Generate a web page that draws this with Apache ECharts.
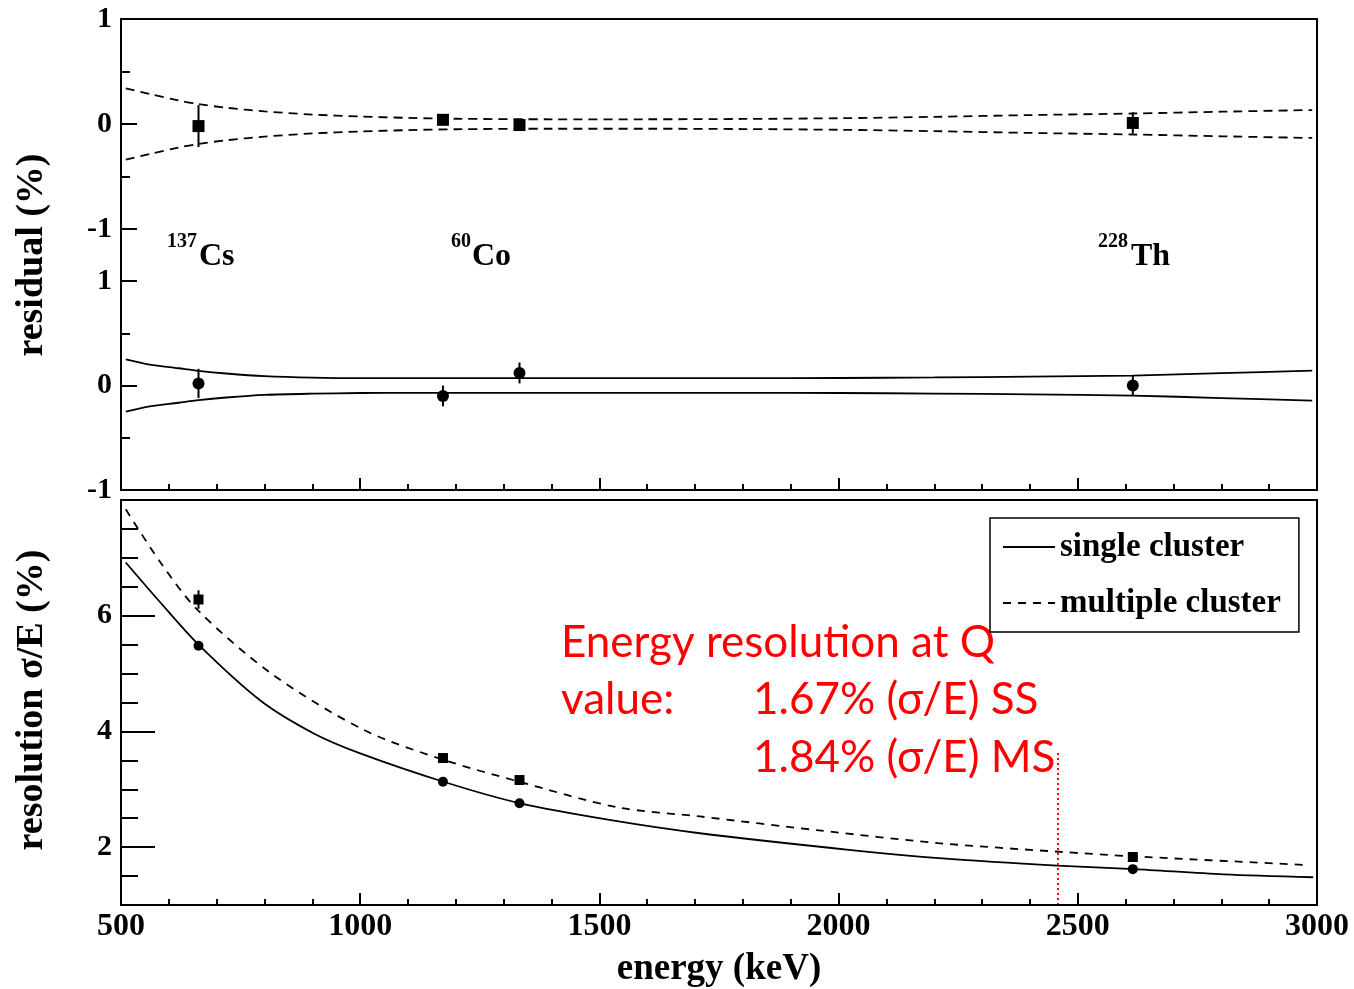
<!DOCTYPE html>
<html>
<head>
<meta charset="utf-8">
<title>energy resolution</title>
<script src="https://cdn.jsdelivr.net/npm/echarts@6/dist/echarts.min.js"></script>
<style>
  html, body { margin: 0; padding: 0; background: #fff; }
  #chart { width: 1354px; height: 989px; }
</style>
</head>
<body>
<div id="chart"></div>
<script>
// calibration peaks (keV)
var energies = [662, 1173, 1333, 2615];

// residuals (%) - multiple cluster (squares) and single cluster (circles)
var msResidual = [-0.02, 0.04, -0.01, 0.01];
var msResidualErr = [0.2, 0.03, 0.03, 0.1];
var ssResidual = [0.02, -0.1, 0.12, 0.0];
var ssResidualErr = [0.14, 0.1, 0.1, 0.1];

// residual error bands
var bandE = [510, 560, 620, 662, 720, 800, 900, 1000, 1100, 1200, 1400, 1600, 1800, 2000, 2200, 2400, 2615, 2800, 2990];
var msBandUp = [0.34, 0.285, 0.225, 0.19, 0.155, 0.12, 0.09, 0.072, 0.058, 0.05, 0.045, 0.045, 0.048, 0.055, 0.068, 0.085, 0.1, 0.117, 0.133];
var msBandLow = [-0.34, -0.285, -0.225, -0.19, -0.155, -0.12, -0.09, -0.072, -0.058, -0.05, -0.045, -0.045, -0.048, -0.055, -0.068, -0.085, -0.1, -0.117, -0.133];
var ssBandUp = [0.25, 0.2, 0.165, 0.14, 0.115, 0.09, 0.075, 0.07, 0.07, 0.07, 0.07, 0.07, 0.07, 0.072, 0.077, 0.085, 0.095, 0.118, 0.143];
var ssBandLow = [-0.25, -0.2, -0.165, -0.14, -0.115, -0.09, -0.078, -0.072, -0.07, -0.07, -0.07, -0.07, -0.07, -0.072, -0.077, -0.085, -0.097, -0.12, -0.145];

// resolution sigma/E (%)
var ssResolution = [5.48, 3.13, 2.76, 1.62];
var ssResolutionErr = [0.03, 0.02, 0.02, 0.02];
var msResolution = [6.28, 3.54, 3.16, 1.83];
var msResolutionErr = [0.16, 0.04, 0.04, 0.03];

// fitted resolution curves
var ssFitE = [510, 580, 662, 792, 904, 1000, 1174, 1333, 1521, 1710, 2026, 2224, 2457, 2618, 2805, 2992];
var ssFit = [6.92, 6.25, 5.5, 4.53, 3.96, 3.62, 3.13, 2.76, 2.47, 2.24, 1.95, 1.8, 1.68, 1.62, 1.53, 1.48];
var msFitE = [510, 580, 660, 816, 1009, 1174, 1333, 1537, 1710, 1959, 2208, 2461, 2618, 2983];
var msFit = [7.84, 6.95, 6.1, 4.99, 4.02, 3.51, 3.13, 2.69, 2.53, 2.29, 2.07, 1.92, 1.84, 1.69];

var qValue = 2458;
var qLineTop = 3.67;

var resTicks = [2, 4, 6];

var serif = "'Liberation Serif', 'Times New Roman', serif";
var sans = "Lato, 'Noto Sans', sans-serif";
var red = '#ff0000';

function pairs(xs, ys) {
  return xs.map(function (x, i) { return [x, ys[i]]; });
}
function errData(vals, errs) {
  return energies.map(function (e, i) { return [e, vals[i] - errs[i], vals[i] + errs[i]]; });
}
function errSeries(idx, vals, errs) {
  return {
    type: 'custom', xAxisIndex: idx, yAxisIndex: idx, silent: true, z: 3,
    data: errData(vals, errs),
    renderItem: function (params, api) {
      var p1 = api.coord([api.value(0), api.value(1)]);
      var p2 = api.coord([api.value(0), api.value(2)]);
      return { type: 'line', shape: { x1: p1[0], y1: p1[1], x2: p2[0], y2: p2[1] },
               style: { stroke: '#000', lineWidth: 2 } };
    }
  };
}
function curve(idx, xs, ys, dashed, name) {
  return {
    name: name, type: 'line', xAxisIndex: idx, yAxisIndex: idx, data: pairs(xs, ys), smooth: 0.3,
    symbol: 'none', silent: true, itemStyle: { color: '#000' },
    lineStyle: { color: '#000', width: 1.8, type: dashed ? [9, 6] : 'solid' }
  };
}
function points(idx, vals, shape, size) {
  return { type: 'scatter', xAxisIndex: idx, yAxisIndex: idx, data: pairs(energies, vals),
           symbol: shape, symbolSize: size, itemStyle: { color: '#000', opacity: 1 }, silent: true, z: 4 };
}

var left = 121, width = 1196;

var xBase = {
  type: 'value', min: 500, max: 3000, interval: 500,
  axisLine: { show: false, onZero: false }, splitLine: { show: false },
  axisTick: { inside: true, length: 12, lineStyle: { color: '#000', width: 2 } },
  minorTick: { show: true, splitNumber: 5, length: 6, lineStyle: { color: '#000', width: 2 } },
  axisLabel: { show: false }
};
var residualY = {
  type: 'value', min: -1, max: 1, interval: 1, position: 'left',
  axisLine: { show: false, onZero: false }, splitLine: { show: false },
  axisTick: { inside: true, length: 16, lineStyle: { color: '#000', width: 2 } },
  minorTick: { show: true, splitNumber: 2, length: 9, lineStyle: { color: '#000', width: 2 } },
  axisLabel: { showMinLabel: true, showMaxLabel: true, margin: 9, color: '#000',
               fontSize: 30, fontWeight: 'bold', fontFamily: serif }
};

var msFitCurve = curve(2, msFitE, msFit, true, 'multiple cluster');
msFitCurve.lineStyle.type = [8, 7];
var ssFitCurve = curve(2, ssFitE, ssFit, false, 'single cluster');
// Q-value marker
ssFitCurve.markLine = {
  silent: true, symbol: 'none', label: { show: false },
  lineStyle: { color: red, width: 2, type: [2, 3] },
  data: [[{ coord: [qValue, 1] }, { coord: [qValue, qLineTop] }]]
};

var chart = echarts.init(document.getElementById('chart'));
chart.setOption({
  backgroundColor: '#fff',
  animation: false,
  grid: [
    { left: left, width: width, top: 19, height: 210 },
    { left: left, width: width, top: 281, height: 209 },
    { left: left, width: width, top: 500, height: 405 }
  ],
  xAxis: [
    Object.assign({}, xBase, { gridIndex: 0, show: false }),
    Object.assign({}, xBase, { gridIndex: 1 }),
    Object.assign({}, xBase, {
      gridIndex: 2,
      axisLabel: { show: true, showMinLabel: true, showMaxLabel: true, margin: 6, color: '#000',
                   fontSize: 32, fontWeight: 'bold', fontFamily: serif,
                   formatter: function (v) { return String(v); } },
      name: 'energy (keV)', nameLocation: 'middle', nameGap: 46,
      nameTextStyle: { color: '#000', fontSize: 37, fontWeight: 'bold', fontFamily: serif }
    })
  ],
  yAxis: [
    Object.assign({}, residualY, { gridIndex: 0 }),
    Object.assign({}, residualY, { gridIndex: 1 }),
    {
      // minor ticks every 0.5
      type: 'value', gridIndex: 2, min: 1, max: 8, interval: 0.5, position: 'left',
      axisLine: { show: false, onZero: false }, splitLine: { show: false },
      axisTick: { inside: true, length: 17, lineStyle: { color: '#000', width: 2 } },
      axisLabel: { show: false }
    },
    {
      // long ticks + labels at 2, 4, 6
      type: 'value', gridIndex: 2, min: 1, max: 8, position: 'left', offset: 0,
      axisLine: { show: false, onZero: false }, splitLine: { show: false },
      axisTick: { inside: true, length: 34, customValues: resTicks, lineStyle: { color: '#000', width: 2 } },
      axisLabel: { customValues: resTicks, margin: 9, color: '#000',
                   fontSize: 30, fontWeight: 'bold', fontFamily: serif }
    }
  ],
  legend: {
    data: ['single cluster', 'multiple cluster'],
    orient: 'vertical', left: 990, top: 518,
    padding: [12, 18, 12, 12], itemGap: 22, itemWidth: 52, itemHeight: 14, itemTextGap: 11,
    borderColor: '#000', borderWidth: 1.5, backgroundColor: '#fff',
    itemStyle: { opacity: 0 },
    textStyle: { color: '#000', fontSize: 33, fontWeight: 'bold', fontFamily: serif, lineHeight: 34 }
  },
  series: [
    // upper residual panel: multiple cluster
    curve(0, bandE, msBandUp, true),
    curve(0, bandE, msBandLow, true),
    errSeries(0, msResidual, msResidualErr),
    points(0, msResidual, 'rect', 12),
    // lower residual panel: single cluster
    curve(1, bandE, ssBandUp, false),
    curve(1, bandE, ssBandLow, false),
    errSeries(1, ssResidual, ssResidualErr),
    points(1, ssResidual, 'circle', 12),
    // resolution panel
    ssFitCurve,
    msFitCurve,
    errSeries(2, msResolution, msResolutionErr),
    errSeries(2, ssResolution, ssResolutionErr),
    points(2, ssResolution, 'circle', 10),
    points(2, msResolution, 'rect', 10)
  ],
  graphic: [
    // frames
    { type: 'rect', shape: { x: left, y: 19, width: width, height: 471 }, z: 100, silent: true,
      style: { fill: 'none', stroke: '#000', lineWidth: 2 } },
    { type: 'rect', shape: { x: left, y: 500, width: width, height: 405 }, z: 100, silent: true,
      style: { fill: 'none', stroke: '#000', lineWidth: 2 } },
    // y titles
    { type: 'text', x: 32, y: 255, rotation: Math.PI / 2, silent: true,
      style: { text: 'residual (%)', align: 'center', verticalAlign: 'middle', fill: '#000',
               fontSize: 38, fontWeight: 'bold', fontFamily: serif } },
    { type: 'text', x: 32, y: 700, rotation: Math.PI / 2, silent: true,
      style: { text: 'resolution σ/E (%)', align: 'center', verticalAlign: 'middle', fill: '#000',
               fontSize: 38, fontWeight: 'bold', fontFamily: serif } },
    // isotope labels
    { type: 'text', x: 167, y: 242, style: { text: '137', verticalAlign: 'middle', fill: '#000', fontSize: 20, fontWeight: 'bold', fontFamily: serif } },
    { type: 'text', x: 199, y: 257, style: { text: 'Cs', verticalAlign: 'middle', fill: '#000', fontSize: 32, fontWeight: 'bold', fontFamily: serif } },
    { type: 'text', x: 451, y: 242, style: { text: '60', verticalAlign: 'middle', fill: '#000', fontSize: 20, fontWeight: 'bold', fontFamily: serif } },
    { type: 'text', x: 472, y: 257, style: { text: 'Co', verticalAlign: 'middle', fill: '#000', fontSize: 32, fontWeight: 'bold', fontFamily: serif } },
    { type: 'text', x: 1098, y: 242, style: { text: '228', verticalAlign: 'middle', fill: '#000', fontSize: 20, fontWeight: 'bold', fontFamily: serif } },
    { type: 'text', x: 1131, y: 257, style: { text: 'Th', verticalAlign: 'middle', fill: '#000', fontSize: 32, fontWeight: 'bold', fontFamily: serif } },
    // red annotation
    { type: 'text', x: 561, y: 643, style: { text: 'Energy resolution at Q', verticalAlign: 'middle', fill: red, fontSize: 44, fontFamily: sans } },
    { type: 'text', x: 561, y: 700, style: { text: 'value:', verticalAlign: 'middle', fill: red, fontSize: 44, fontFamily: sans } },
    { type: 'text', x: 753, y: 700, style: { text: '1.67% (σ/E) SS', verticalAlign: 'middle', fill: red, fontSize: 44, fontFamily: sans } },
    { type: 'text', x: 753, y: 758, style: { text: '1.84% (σ/E) MS', verticalAlign: 'middle', fill: red, fontSize: 44, fontFamily: sans } }
  ]
});
</script>
</body>
</html>
